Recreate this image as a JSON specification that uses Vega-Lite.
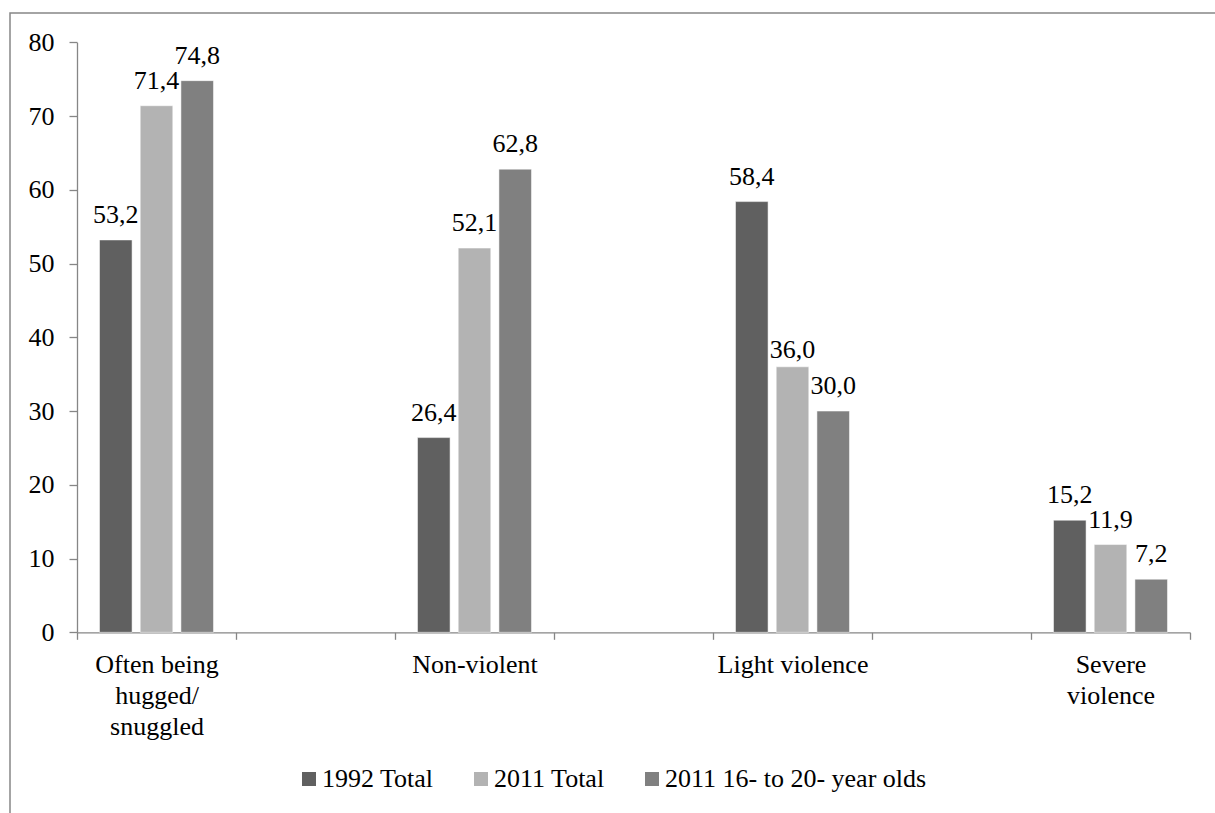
{
  "$schema": "https://vega.github.io/schema/vega-lite/v6.json",
  "autosize": {"type": "none"},
  "padding": {"left": 10, "top": 13, "right": -2, "bottom": -2},
  "width": 1207,
  "height": 802,
  "background": "white",
  "config": {
    "locale": {"number": {"decimal": ",", "thousands": ".", "grouping": [3], "currency": ["", " €"]}},
    "view": {"stroke": "#878787", "strokeWidth": 1.5},
    "font": "Liberation Serif",
    "axis": {
      "labelFont": "Liberation Serif",
      "labelFontSize": 26,
      "labelColor": "#000000",
      "domainColor": "#868686",
      "tickColor": "#868686",
      "domainWidth": 1.3,
      "tickWidth": 1.3,
      "grid": false,
      "title": null
    }
  },
  "data": {
    "values": [
      {"category": "Often being hugged/snuggled", "series": "1992 Total", "value": 53.2},
      {"category": "Often being hugged/snuggled", "series": "2011 Total", "value": 71.4},
      {"category": "Often being hugged/snuggled", "series": "2011 16- to 20- year olds", "value": 74.8},
      {"category": "Non-violent", "series": "1992 Total", "value": 26.4},
      {"category": "Non-violent", "series": "2011 Total", "value": 52.1},
      {"category": "Non-violent", "series": "2011 16- to 20- year olds", "value": 62.8},
      {"category": "Light violence", "series": "1992 Total", "value": 58.4},
      {"category": "Light violence", "series": "2011 Total", "value": 36.0},
      {"category": "Light violence", "series": "2011 16- to 20- year olds", "value": 30.0},
      {"category": "Severe violence", "series": "1992 Total", "value": 15.2},
      {"category": "Severe violence", "series": "2011 Total", "value": 11.9},
      {"category": "Severe violence", "series": "2011 16- to 20- year olds", "value": 7.2}
    ]
  },
  "encoding": {
    "x": {
      "field": "category",
      "type": "nominal",
      "scale": {
        "domain": ["Often being hugged/snuggled", " ", "Non-violent", "  ", "Light violence", "   ", "Severe violence"],
        "range": [67, 1180],
        "paddingInner": 0,
        "paddingOuter": 0
      },
      "axis": {
        "offset": -182.7,
        "tickBand": "extent",
        "tickSize": 7,
        "labelPadding": 12,
        "labelLineHeight": 31,
        "labelAngle": 0,
        "labelLimit": 0,
        "labelExpr": "datum.value === 'Often being hugged/snuggled' ? ['Often being', 'hugged/', 'snuggled'] : datum.value === 'Severe violence' ? ['Severe', 'violence'] : datum.value"
      }
    },
    "y": {
      "field": "value",
      "type": "quantitative",
      "scale": {"domain": [0, 80], "range": [619.3, 29.3], "nice": false, "zero": true},
      "axis": {
        "values": [0, 10, 20, 30, 40, 50, 60, 70, 80],
        "offset": -67,
        "tickSize": 8,
        "labelPadding": 15
      }
    },
    "xOffset": {
      "field": "series",
      "type": "nominal",
      "scale": {
        "domain": ["1992 Total", "2011 Total", "2011 16- to 20- year olds"],
        "paddingInner": 0.2,
        "paddingOuter": 0.553
      }
    }
  },
  "layer": [
    {
      "mark": {"type": "bar", "stroke": "#ffffff", "strokeOpacity": 0.5, "strokeWidth": 1},
      "encoding": {
        "color": {
          "field": "series",
          "type": "nominal",
          "scale": {
            "domain": ["1992 Total", "2011 Total", "2011 16- to 20- year olds"],
            "range": ["#606060", "#b3b3b3", "#808080"]
          },
          "legend": {
            "orient": "none",
            "legendX": 286,
            "legendY": 753,
            "direction": "horizontal",
            "title": null,
            "symbolType": "square",
            "symbolSize": 196,
            "symbolStrokeWidth": 0,
            "symbolOpacity": 1,
            "labelFont": "Liberation Serif",
            "labelFontSize": 26,
            "labelColor": "#000000",
            "labelOffset": 0,
            "columnPadding": 34,
            "labelLimit": 0
          }
        }
      }
    },
    {
      "transform": [{"filter": "!(datum.category === 'Light violence' && datum.series === '2011 Total')"}],
      "mark": {"type": "text", "baseline": "alphabetic", "dy": -17, "fontSize": 26, "font": "Liberation Serif", "color": "#000000"},
      "encoding": {
        "text": {"field": "value", "type": "quantitative", "format": ".1f"}
      }
    },
    {
      "transform": [{"filter": "datum.category === 'Light violence' && datum.series === '2011 Total'"}],
      "mark": {"type": "text", "baseline": "alphabetic", "dy": -9, "fontSize": 26, "font": "Liberation Serif", "color": "#000000"},
      "encoding": {
        "text": {"field": "value", "type": "quantitative", "format": ".1f"}
      }
    }
  ]
}
